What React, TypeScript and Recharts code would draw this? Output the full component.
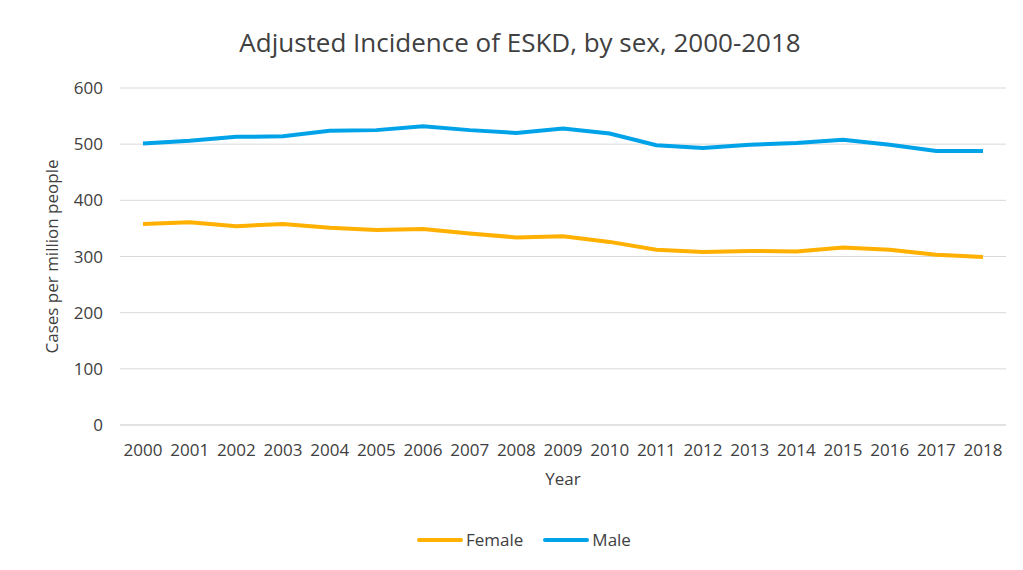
import { LineChart, Line, XAxis, YAxis, CartesianGrid } from 'recharts';

const years = [
  '2000', '2001', '2002', '2003', '2004', '2005', '2006', '2007', '2008', '2009',
  '2010', '2011', '2012', '2013', '2014', '2015', '2016', '2017', '2018',
];
const female = [358, 361, 354, 358, 351, 347, 349, 341, 334, 336, 326, 312, 308, 310, 309, 316, 312, 303, 299];
const male = [501, 506, 513, 514, 524, 525, 532, 525, 520, 528, 519, 498, 493, 499, 502, 508, 499, 488, 488];
const yTicks = [0, 100, 200, 300, 400, 500, 600];

const FEMALE_COLOR = '#FFB000';
const MALE_COLOR = '#00A2E8';
const TEXT_COLOR = '#404040';
const FONT = '"Open Sans", sans-serif';

const chartData = years.map((year, i) => ({
  year,
  female: female[i],
  male: male[i],
}));

const LegendItem = ({ color, label }: { color: string; label: string }) => (
  <span style={{ display: 'inline-flex', alignItems: 'center', marginRight: 20 }}>
    <svg width={46} height={8} style={{ marginRight: 3 }}>
      <line x1={2} y1={4} x2={44} y2={4} stroke={color} strokeWidth={4} strokeLinecap="round" />
    </svg>
    <span>{label}</span>
  </span>
);

export default function App() {
  return (
    <div style={{ position: 'relative', width: 1023, height: 570, margin: -8, background: '#fff', fontFamily: FONT }}>
      <div
        style={{
          position: 'absolute',
          top: 24,
          left: 0,
          width: 1040,
          textAlign: 'center',
          fontSize: 26,
          color: TEXT_COLOR,
        }}
      >
        Adjusted Incidence of ESKD, by sex, 2000-2018
      </div>
      <LineChart
        width={1023}
        height={570}
        data={chartData}
        margin={{ top: 88, right: 17, bottom: 65, left: 0 }}
      >
        <CartesianGrid vertical={false} stroke="#d9d9d9" />
        <XAxis
          dataKey="year"
          axisLine={{ stroke: '#d9d9d9' }}
          tickLine={false}
          tickSize={0}
          tickMargin={19}
          height={80}
          interval={0}
          padding={{ left: 23, right: 23 }}
          tick={{ fill: TEXT_COLOR, fontSize: 17, fontFamily: FONT }}
          label={{ value: 'Year', position: 'insideTop', offset: 48, fill: TEXT_COLOR, fontSize: 17, fontFamily: FONT }}
        />
        <YAxis
          domain={[0, 600]}
          ticks={yTicks}
          axisLine={false}
          tickLine={false}
          tickSize={0}
          tickMargin={17}
          width={120}
          tick={{ fill: TEXT_COLOR, fontSize: 17, fontFamily: FONT }}
          label={{
            value: 'Cases per million people',
            angle: -90,
            position: 'center',
            dx: -8,
            fill: TEXT_COLOR,
            fontSize: 17,
            fontFamily: FONT,
          }}
        />
        <Line
          type="linear"
          dataKey="female"
          stroke={FEMALE_COLOR}
          strokeWidth={4}
          dot={false}
          isAnimationActive={false}
        />
        <Line
          type="linear"
          dataKey="male"
          stroke={MALE_COLOR}
          strokeWidth={4}
          dot={false}
          isAnimationActive={false}
        />
      </LineChart>
      <div
        style={{
          position: 'absolute',
          top: 528,
          left: 417,
          display: 'flex',
          fontSize: 17,
          color: TEXT_COLOR,
        }}
      >
        <LegendItem color={FEMALE_COLOR} label="Female" />
        <LegendItem color={MALE_COLOR} label="Male" />
      </div>
    </div>
  );
}
